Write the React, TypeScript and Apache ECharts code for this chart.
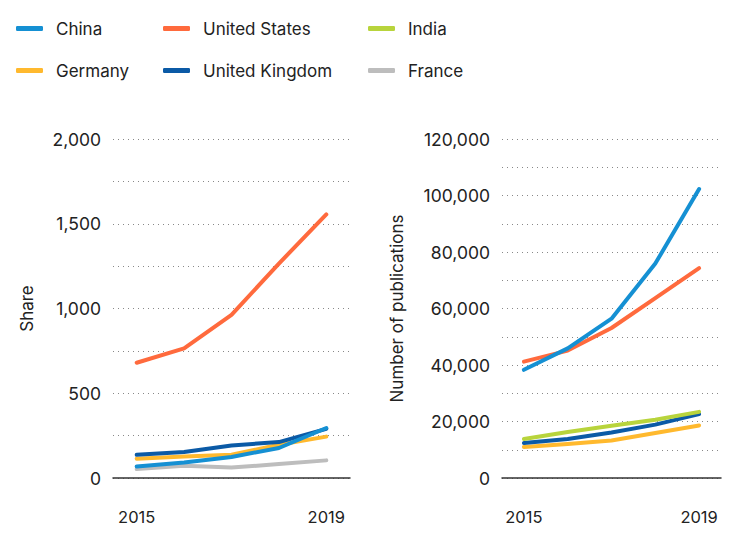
import React, { useEffect, useRef } from "react";
import * as echarts from "echarts";

const years = ["2015", "2016", "2017", "2018", "2019"];

// Left panel: Share
const shareUS = [680, 765, 962, 1265, 1555];
const shareUK = [137, 153, 192, 212, 290];
const shareGermany = [114, 127, 137, 196, 244];
const shareChina = [68, 92, 124, 177, 295];
const shareFrance = [53, 72, 62, 82, 104];

// Right panel: Number of publications
const pubChina = [38300, 45900, 56400, 75900, 102300];
const pubUS = [41200, 45100, 53100, 63700, 74300];
const pubIndia = [13800, 16300, 18500, 20600, 23400];
const pubUK = [12400, 13800, 16100, 18900, 22600];
const pubGermany = [11000, 12000, 13300, 15900, 18600];

const colors: Record<string, string> = {
  China: "#1590d3",
  "United States": "#ff6a3d",
  India: "#b8d43c",
  Germany: "#ffb92e",
  "United Kingdom": "#0b5aa6",
  France: "#bdbdbd",
};

const legendLayout = [
  { name: "China", left: 16, top: 20 },
  { name: "United States", left: 163, top: 20 },
  { name: "India", left: 368, top: 20 },
  { name: "Germany", left: 16, top: 62 },
  { name: "United Kingdom", left: 163, top: 62 },
  { name: "France", left: 368, top: 62 },
];

const FONT = "Inter";

export default function App() {
  const ref = useRef<HTMLDivElement>(null);
  useEffect(() => {
    document.body.style.margin = "0";
    const chart = echarts.init(ref.current!, null, { renderer: "svg" });

    const fmt = (v: number) => v.toLocaleString("en-US");

    const xAxis = (gi: number) => ({
      type: "category",
      gridIndex: gi,
      data: years,
      boundaryGap: true,
      axisLine: { lineStyle: { color: "#333", width: 1.5 } },
      axisTick: {
        alignWithLabel: true,
        interval: 0,
        length: 14,
        lineStyle: { color: "#777", width: 1.5 },
      },
      axisLabel: {
        interval: (i: number) => i === 0 || i === 4,
        margin: 30,
        color: "#222",
        fontFamily: FONT,
        fontSize: 16.5,
      },
    });

    const yAxis = (gi: number, max: number, interval: number, labelEvery: number, name: string, nameGap: number) => ({
      type: "value",
      gridIndex: gi,
      min: 0,
      max,
      interval,
      name,
      nameLocation: "middle",
      nameRotate: 90,
      nameGap,
      nameTextStyle: { color: "#222", fontFamily: FONT, fontSize: 17 },
      axisLine: { show: false },
      axisTick: { show: false },
      axisLabel: {
        formatter: (v: number) => (v % labelEvery === 0 ? fmt(v) : ""),
        color: "#222",
        fontFamily: FONT,
        fontSize: 17.5,
        margin: 12,
      },
      splitLine: {
        show: true,
        lineStyle: { color: "#888", width: 1, type: [1, 4] },
      },
    });

    const line = (name: string, data: number[], gi: number, z: number) => ({
      name,
      type: "line",
      xAxisIndex: gi,
      yAxisIndex: gi,
      data,
      symbol: "none",
      z,
      lineStyle: { color: colors[name], width: 4, cap: "round", join: "round" },
      itemStyle: { color: colors[name] },
    });

    chart.setOption({
      animation: false,
      backgroundColor: "#fff",
      legend: legendLayout.map((l) => ({
        data: [{ name: l.name, icon: "roundRect" }],
        left: l.left,
        top: l.top,
        itemWidth: 27,
        itemHeight: 5,
        selectedMode: false,
        padding: 0,
        textStyle: {
          fontFamily: FONT,
          fontSize: 17,
          color: "#222",
          padding: [0, 0, 0, 8],
        },
      })),
      grid: [
        { left: 113, right: 392, top: 139, bottom: 70 },
        { left: 502, right: 21, top: 139, bottom: 70 },
      ],
      xAxis: [xAxis(0), xAxis(1)],
      yAxis: [
        yAxis(0, 2000, 250, 500, "Share", 78),
        yAxis(1, 120000, 10000, 20000, "Number of publications", 97),
      ],
      series: [
        line("France", shareFrance, 0, 2),
        line("Germany", shareGermany, 0, 3),
        line("United Kingdom", shareUK, 0, 4),
        line("China", shareChina, 0, 5),
        line("United States", shareUS, 0, 6),
        line("Germany", pubGermany, 1, 3),
        line("United Kingdom", pubUK, 1, 4),
        line("India", pubIndia, 1, 5),
        line("United States", pubUS, 1, 6),
        line("China", pubChina, 1, 7),
      ],
    });
    return () => chart.dispose();
  }, []);
  return <div ref={ref} style={{ width: 742, height: 548 }} />;
}
